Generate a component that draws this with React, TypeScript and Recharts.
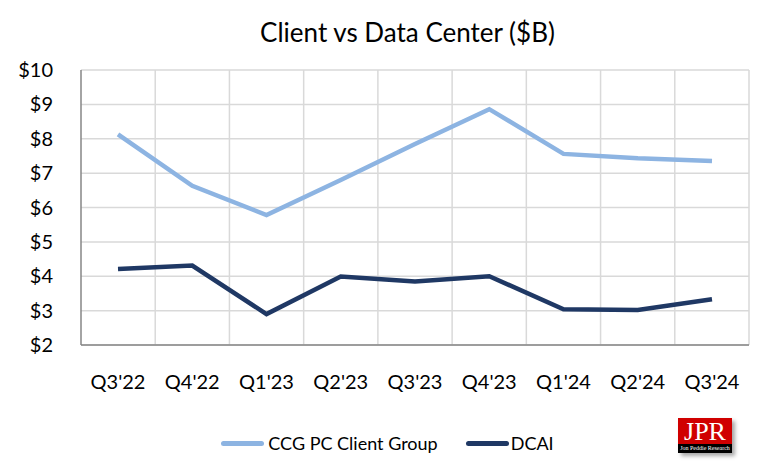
import { LineChart, Line, XAxis, YAxis, CartesianGrid, Legend } from 'recharts';

const quarters = ["Q3'22", "Q4'22", "Q1'23", "Q2'23", "Q3'23", "Q4'23", "Q1'24", "Q2'24", "Q3'24"];
const ccg = [8.13, 6.63, 5.78, 6.8, 7.85, 8.86, 7.56, 7.43, 7.35];
const dcai = [4.21, 4.31, 2.9, 3.99, 3.85, 4.0, 3.04, 3.02, 3.33];
const yTicks = [2, 3, 4, 5, 6, 7, 8, 9, 10];

const chartData = quarters.map((q, i) => ({ quarter: q, ccg: ccg[i], dcai: dcai[i] }));

const FONT = 'Lato, "Open Sans", sans-serif';

const CustomLegend = () => (
  <div style={{ display: 'flex', justifyContent: 'center', alignItems: 'center', fontFamily: FONT, fontSize: 18, color: '#000', height: 40, paddingLeft: 26 }}>
    <span style={{ display: 'inline-block', width: 43, height: 5, background: '#8DB4E2', borderRadius: 3, marginRight: 4 }} />
    <span style={{ marginRight: 28 }}>CCG PC Client Group</span>
    <span style={{ display: 'inline-block', width: 43, height: 5, background: '#1F3864', borderRadius: 3, marginRight: 2 }} />
    <span>DCAI</span>
  </div>
);

export default function App() {
  return (
    <div style={{ position: 'absolute', left: 0, top: 0, width: 771, height: 476, background: '#fff' }}>
      <div style={{ position: 'absolute', left: 0, top: 16, width: 771, textAlign: 'center', fontFamily: FONT, fontSize: 26, color: '#000', paddingLeft: 44, boxSizing: 'border-box' }}>
        Client vs Data Center ($B)
      </div>
      <LineChart width={771} height={476} data={chartData} margin={{ top: 70, right: 22, left: 0, bottom: 13 }}>
        <CartesianGrid
          stroke="#d9d9d9"
          strokeWidth={1.5}
          verticalCoordinatesGenerator={({ offset }: any) =>
            quarters.map((_, i) => offset.left + ((i + 1) * offset.width) / quarters.length)
          }
        />
        <XAxis
          dataKey="quarter"
          height={78}
          tickLine={false}
          stroke="#868686"
          strokeWidth={1.5}
          tickMargin={24}
          padding={{ left: 37, right: 37 }}
          tick={{ fill: '#000', fontSize: 20, fontFamily: FONT }}
        />
        <YAxis
          width={81}
          domain={[2, 10]}
          ticks={yTicks}
          tickLine={false}
          stroke="#868686"
          strokeWidth={1.5}
          tickMargin={22}
          tickFormatter={(v: number) => `$${v}`}
          tick={{ fill: '#000', fontSize: 20, fontFamily: FONT }}
        />
        <Legend verticalAlign="bottom" height={40} content={<CustomLegend />} />
        <Line type="linear" dataKey="ccg" name="CCG PC Client Group" stroke="#8DB4E2" strokeWidth={4.5} dot={false} isAnimationActive={false} />
        <Line type="linear" dataKey="dcai" name="DCAI" stroke="#1F3864" strokeWidth={4.5} dot={false} isAnimationActive={false} />
      </LineChart>
      <div style={{ position: 'absolute', left: 678, top: 418, width: 54, height: 35, boxShadow: '3px 3px 4px rgba(0,0,0,0.35)' }}>
        <div style={{ height: 26, background: '#d00000', color: '#fff', fontFamily: '"Liberation Serif", serif', fontSize: 26, lineHeight: '28px', textAlign: 'center' }}>JPR</div>
        <div style={{ height: 9, background: '#000', color: '#fff', fontFamily: '"Liberation Serif", serif', fontSize: 6, lineHeight: '9px', textAlign: 'center', whiteSpace: 'nowrap', overflow: 'hidden' }}>Jon Peddie Research</div>
      </div>
    </div>
  );
}
